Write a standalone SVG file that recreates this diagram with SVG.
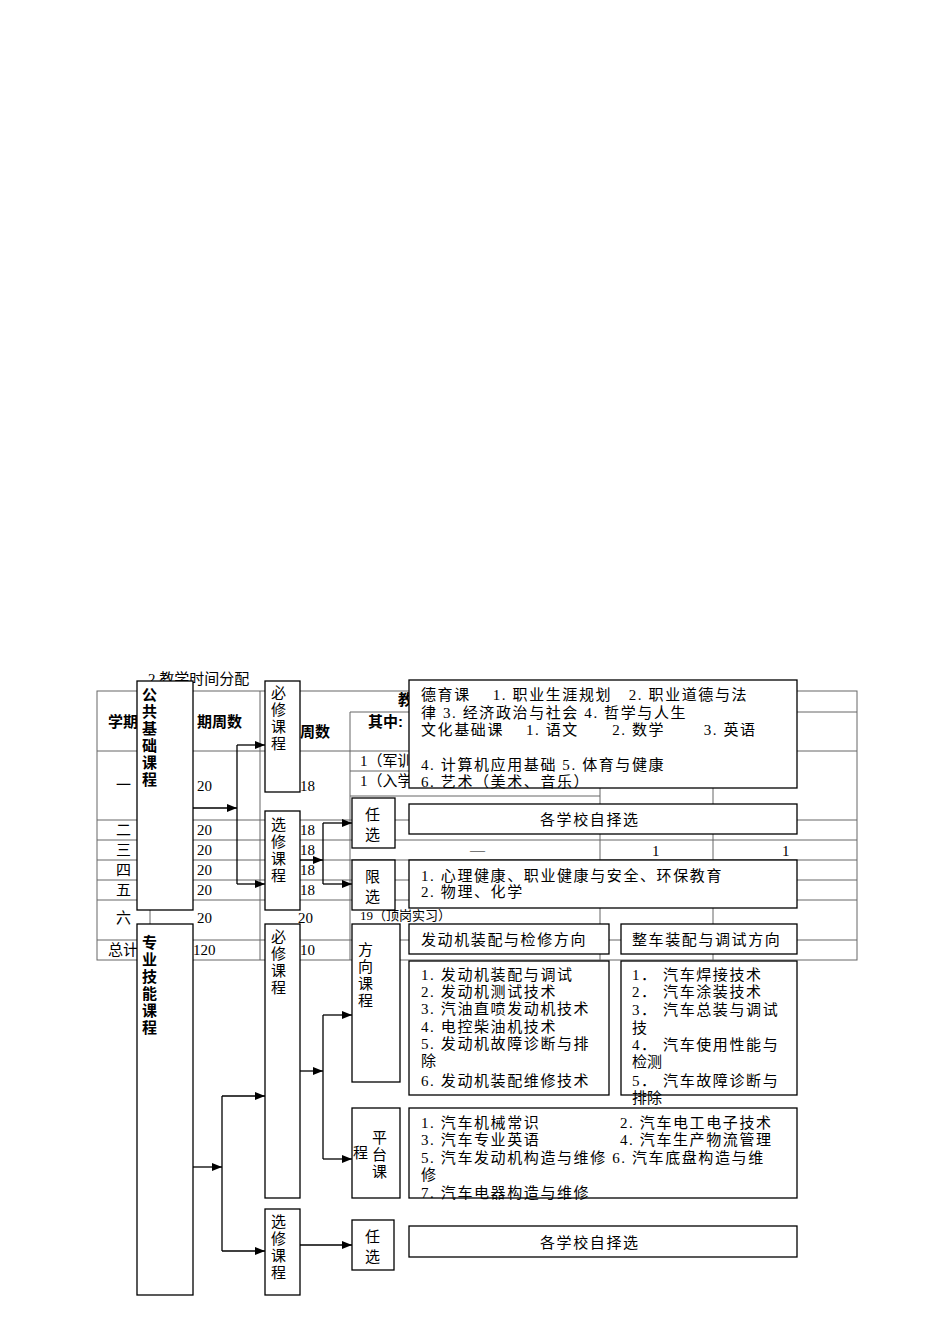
<svg xmlns="http://www.w3.org/2000/svg" width="950" height="1344" viewBox="0 0 950 1344">
<style>
text{font-family:"Liberation Serif","Noto Sans CJK SC",serif;font-size:15px;fill:#000}
.b{font-family:"Liberation Sans","Noto Sans CJK SC",sans-serif;font-weight:bold}
.w{letter-spacing:1.6px}
.tl{stroke:#666;stroke-width:1;fill:none}
.bx{fill:#fff;stroke:#000;stroke-width:1.3}
.c{stroke:#000;stroke-width:1.3;fill:none}
</style>
<defs><marker id="a" markerWidth="10" markerHeight="8" refX="10" refY="4" orient="auto" markerUnits="userSpaceOnUse"><path d="M0,0L10,4L0,8z" fill="#000"/></marker></defs>
<rect width="950" height="1344" fill="#fff"/>
<g id="table">
<text x="148" y="684">2.教学时间分配</text>
<rect class="tl" x="97" y="691" width="760" height="269"/>
<path class="tl" d="M350,712H857M97,751H857M350,771H600M350,796H600M97,820H857M97,840H857M97,860H857M97,880H857M97,900H857M97,940H857M150,691V960M260,691V960M350,712V960M600,751V960M713,751V960"/>
<text class="b" x="108" y="727">学期</text><text class="b" x="197" y="727">期周数</text><text class="b" x="300" y="737">周数</text><text class="b" x="368" y="727">其中:</text><text class="b" x="398" y="705">教</text>
<text x="116" y="790">一</text><text x="197" y="791">20</text><text x="300" y="791">18</text>
<text x="360" y="766">1（军训</text><text x="360" y="786">1（入学</text>
<text x="116" y="835">二</text><text x="197" y="835">20</text><text x="300" y="835">18</text>
<text x="116" y="855">三</text><text x="197" y="855">20</text><text x="300" y="855">18</text>
<text x="116" y="875">四</text><text x="197" y="875">20</text><text x="300" y="875">18</text>
<text x="116" y="895">五</text><text x="197" y="895">20</text><text x="300" y="895">18</text>
<text x="470" y="855">—</text><text x="652" y="856">1</text><text x="782" y="856">1</text>
<text x="116" y="923">六</text><text x="197" y="923">20</text><text x="298" y="923">20</text>
<text x="360" y="920" style="font-size:13px">19（顶岗实习）</text>
<text x="108" y="955">总计</text><text x="193" y="955">120</text><text x="300" y="955">10</text>
</g>
<g id="connectors">
<path class="c" d="M193,808H237" marker-end="url(#a)"/>
<path class="c" d="M237,745V884"/>
<path class="c" d="M237,745H265" marker-end="url(#a)"/><path class="c" d="M237,884H265" marker-end="url(#a)"/>
<path class="c" d="M300,860H323" marker-end="url(#a)"/>
<path class="c" d="M323,823V884"/>
<path class="c" d="M323,823H352" marker-end="url(#a)"/><path class="c" d="M323,884H352" marker-end="url(#a)"/>
<path class="c" d="M193,1167H222" marker-end="url(#a)"/>
<path class="c" d="M222,1096V1251"/>
<path class="c" d="M222,1096H265" marker-end="url(#a)"/><path class="c" d="M222,1251H265" marker-end="url(#a)"/>
<path class="c" d="M300,1071H323" marker-end="url(#a)"/>
<path class="c" d="M323,1015V1159"/>
<path class="c" d="M323,1015H352" marker-end="url(#a)"/><path class="c" d="M323,1159H352" marker-end="url(#a)"/>
<path class="c" d="M300,1245H352" marker-end="url(#a)"/>
</g>
<g id="n_gg"><rect class="bx" x="137" y="681" width="56" height="229"/><text class="b" x="142" y="700">公</text><text class="b" x="142" y="717">共</text><text class="b" x="142" y="734">基</text><text class="b" x="142" y="751">础</text><text class="b" x="142" y="768">课</text><text class="b" x="142" y="785">程</text></g>
<g id="n_zy"><rect class="bx" x="137" y="924" width="56" height="371"/><text class="b" x="142" y="948">专</text><text class="b" x="142" y="965">业</text><text class="b" x="142" y="982">技</text><text class="b" x="142" y="999">能</text><text class="b" x="142" y="1016">课</text><text class="b" x="142" y="1033">程</text></g>
<g id="n_bx1"><rect class="bx" x="265" y="681" width="35" height="111"/><text x="271" y="698">必</text><text x="271" y="715">修</text><text x="271" y="732">课</text><text x="271" y="749">程</text></g>
<g id="n_xx1"><rect class="bx" x="265" y="811" width="35" height="99"/><text x="271" y="830">选</text><text x="271" y="847">修</text><text x="271" y="864">课</text><text x="271" y="881">程</text></g>
<g id="n_bx2"><rect class="bx" x="265" y="924" width="35" height="274"/><text x="271" y="942">必</text><text x="271" y="959">修</text><text x="271" y="976">课</text><text x="271" y="993">程</text></g>
<g id="n_xx2"><rect class="bx" x="265" y="1209" width="35" height="86"/><text x="271" y="1227">选</text><text x="271" y="1244">修</text><text x="271" y="1261">课</text><text x="271" y="1278">程</text></g>
<g id="n_rx1"><rect class="bx" x="352" y="798" width="43" height="50"/><text x="365" y="820">任</text><text x="365" y="840">选</text></g>
<g id="n_xx"><rect class="bx" x="352" y="860" width="43" height="50"/><text x="365" y="882">限</text><text x="365" y="902">选</text></g>
<g id="n_fx"><rect class="bx" x="352" y="924" width="48" height="158"/><text x="358" y="955">方</text><text x="358" y="972">向</text><text x="358" y="989">课</text><text x="358" y="1006">程</text></g>
<g id="n_pt"><rect class="bx" x="352" y="1108" width="48" height="90"/><text x="372" y="1143">平</text><text x="372" y="1160">台</text><text x="372" y="1177">课</text><text x="353" y="1158">程</text></g>
<g id="n_rx2"><rect class="bx" x="352" y="1220" width="42" height="50"/><text x="365" y="1242">任</text><text x="365" y="1262">选</text></g>
<g id="t_gg"><rect class="bx" x="409" y="680" width="388" height="108"/>
<text class="w" x="421" y="700">德育课　 1. 职业生涯规划　2. 职业道德与法</text>
<text class="w" x="421" y="718">律 3. 经济政治与社会  4. 哲学与人生</text>
<text class="w" x="421" y="735">文化基础课　 1. 语文　　2. 数学　　 3. 英语</text>
<text class="w" x="421" y="770">4. 计算机应用基础  5. 体育与健康</text>
<text class="w" x="421" y="787">6. 艺术（美术、音乐）</text></g>
<g id="t_rx1"><rect class="bx" x="409" y="804" width="388" height="30"/><text class="w" x="540" y="825">各学校自择选</text></g>
<g id="t_xx"><rect class="bx" x="409" y="860" width="388" height="48"/><text class="w" x="421" y="881">1. 心理健康、职业健康与安全、环保教育</text><text class="w" x="421" y="897">2. 物理、化学</text></g>
<g id="t_fx1"><rect class="bx" x="409" y="924" width="200" height="30"/><text class="w" x="421" y="945">发动机装配与检修方向</text></g>
<g id="t_fx2"><rect class="bx" x="621" y="924" width="176" height="30"/><text class="w" x="632" y="945">整车装配与调试方向</text></g>
<g id="t_l1"><rect class="bx" x="409" y="961" width="200" height="134"/>
<text class="w" x="421" y="980">1. 发动机装配与调试</text><text class="w" x="421" y="997">2. 发动机测试技术</text><text class="w" x="421" y="1014">3. 汽油直喷发动机技术</text><text class="w" x="421" y="1032">4. 电控柴油机技术</text><text class="w" x="421" y="1049">5. 发动机故障诊断与排</text><text x="421" y="1066">除</text><text class="w" x="421" y="1086">6. 发动机装配维修技术</text></g>
<g id="t_l2"><rect class="bx" x="621" y="961" width="176" height="134"/>
<text class="w" x="632" y="980">1． 汽车焊接技术</text><text class="w" x="632" y="997">2． 汽车涂装技术</text><text class="w" x="632" y="1015">3． 汽车总装与调试</text><text x="632" y="1033">技</text><text class="w" x="632" y="1050">4． 汽车使用性能与</text><text x="632" y="1067">检测</text><text class="w" x="632" y="1086">5． 汽车故障诊断与</text><text x="632" y="1103">排除</text></g>
<g id="t_pt"><rect class="bx" x="409" y="1108" width="388" height="90"/>
<text class="w" x="421" y="1128">1. 汽车机械常识</text><text class="w" x="620" y="1128">2. 汽车电工电子技术</text>
<text class="w" x="421" y="1145">3. 汽车专业英语</text><text class="w" x="620" y="1145">4. 汽车生产物流管理</text>
<text class="w" x="421" y="1163">5. 汽车发动机构造与维修  6. 汽车底盘构造与维</text><text x="421" y="1180">修</text><text class="w" x="421" y="1198">7. 汽车电器构造与维修</text></g>
<g id="t_rx2"><rect class="bx" x="409" y="1226" width="388" height="31"/><text class="w" x="540" y="1248">各学校自择选</text></g>
</svg>
